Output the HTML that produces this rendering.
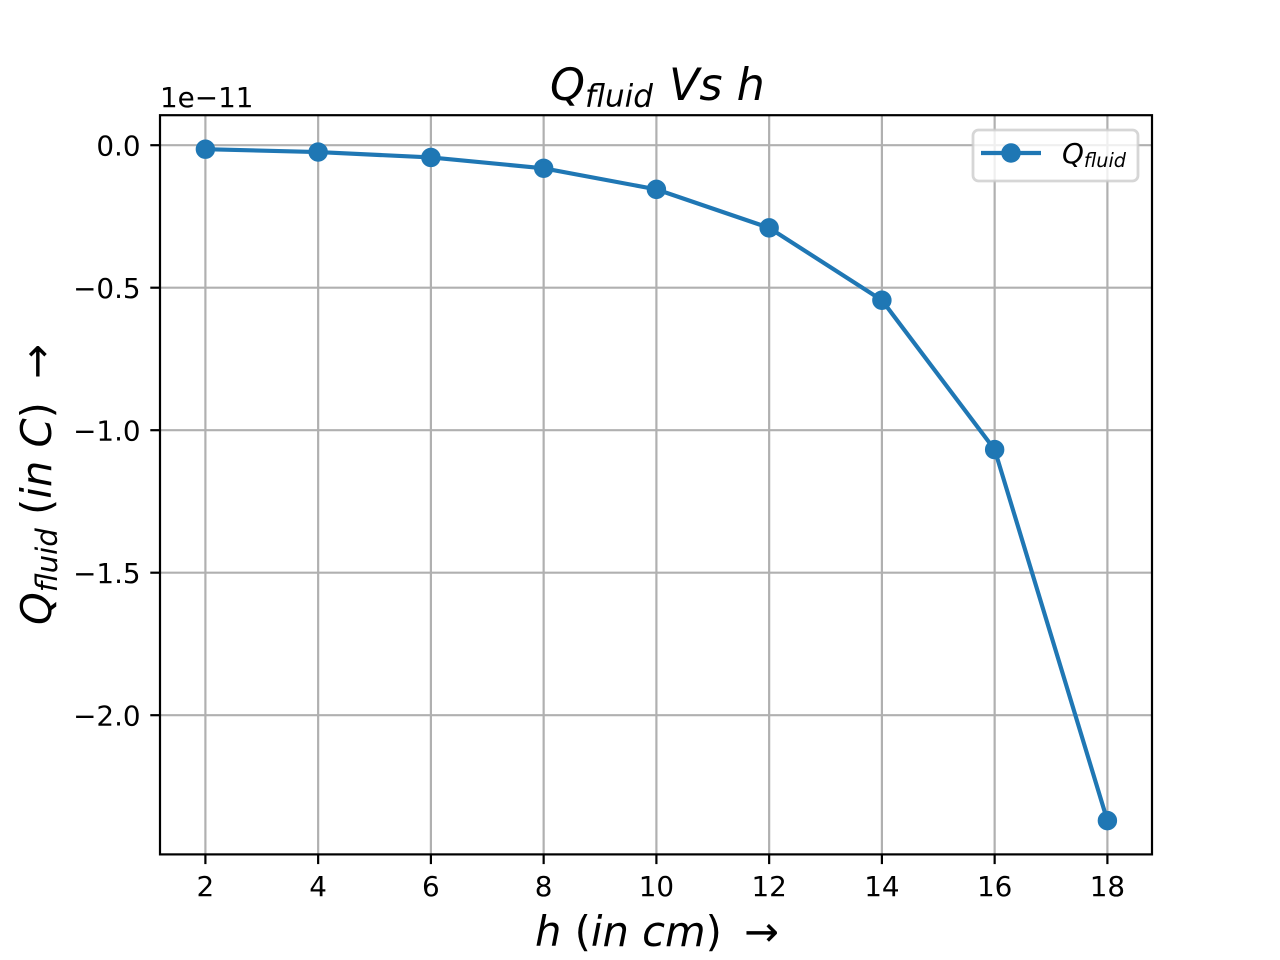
<!DOCTYPE html>
<html>
<head>
<meta charset="utf-8">
<style>
html,body{margin:0;padding:0;background:#fff;}
svg{display:block;}
text{font-family:"DejaVu Sans","Liberation Sans",sans-serif;fill:#000;white-space:pre;}
.i{font-style:italic;}
</style>
</head>
<body>
<svg id="chart" xmlns="http://www.w3.org/2000/svg" width="1280" height="960" viewBox="0 0 1280 960">
  <rect x="0" y="0" width="1280" height="960" fill="#fff"/>
  <rect x="160" y="115.2" width="992" height="739.2" fill="#fff"/>
  <g id="grid"></g>
  <g id="series"></g>
  <g id="ticks"></g>
  <rect x="160" y="115.2" width="992" height="739.2" fill="none" stroke="#000" stroke-width="2.2"/>
  <text x="160" y="107" font-size="27.8">1e−11</text>
  <text x="550" y="100" font-size="44.4" class="i">Q<tspan font-size="31" dy="6.5">fluid</tspan><tspan dy="-6.5" dx="2"> Vs h</tspan></text>
  <text x="535" y="946" font-size="41.67"><tspan class="i">h</tspan> (<tspan class="i">in cm</tspan>)<tspan x="744">→</tspan></text>
  <text transform="translate(51,625) rotate(-90)" font-size="41.67"><tspan class="i">Q</tspan><tspan class="i" font-size="29.2" dy="6.1">fluid</tspan><tspan dy="-6.1"> (</tspan><tspan class="i">in C</tspan>)<tspan x="246">→</tspan></text>
  <g>
    <rect x="973" y="130" width="165" height="51" rx="5.5" ry="5.5" fill="#fff" fill-opacity="0.8" stroke="#ccc" stroke-opacity="0.8" stroke-width="2.78"/>
    <line x1="981" y1="153" x2="1041" y2="153" stroke="#1f77b4" stroke-width="4.17"/>
    <circle cx="1011" cy="153" r="8.33" fill="#1f77b4" stroke="#1f77b4" stroke-width="2.78"/>
    <text x="1062" y="163" font-size="27.8" class="i">Q<tspan font-size="19.2" dy="4">fluid</tspan></text>
  </g>
</svg>
<script>
var hValues = [2, 4, 6, 8, 10, 12, 14, 16, 18];
var qValues = [-0.014, -0.024, -0.043, -0.081, -0.155, -0.29, -0.544, -1.068, -2.37];
var xTickValues = [2, 4, 6, 8, 10, 12, 14, 16, 18];
var yTickValues = [0, -0.5, -1, -1.5, -2];
var yTickLabels = ["0.0", "−0.5", "−1.0", "−1.5", "−2.0"];

var NS = "http://www.w3.org/2000/svg";
function xScale(v) { return 205.4 + (v - 2) * 56.375; }
function yScale(v) { return 145.2 - v * 285; }
function make(tag, attrs, parent) {
  var el = document.createElementNS(NS, tag);
  for (var k in attrs) { el.setAttribute(k, attrs[k]); }
  parent.appendChild(el);
  return el;
}
var gridGroup = document.getElementById("grid");
var tickGroup = document.getElementById("ticks");
var seriesGroup = document.getElementById("series");
var plotBottom = 854.4, plotTop = 115.2, plotLeft = 160, plotRight = 1152;

xTickValues.forEach(function (v) {
  var x = xScale(v);
  var g = make("line", {x1: x, x2: x, y1: plotTop, y2: plotBottom, stroke: "#b0b0b0", "stroke-width": 2.2}, gridGroup);
  
  
  var t = make("line", {x1: x, x2: x, y1: plotBottom, y2: plotBottom + 9.7, stroke: "#000", "stroke-width": 2.2}, tickGroup);
  
  
  var l = make("text", {x: x, y: 896, "font-size": 27.8, "text-anchor": "middle"}, tickGroup);
  
  
  l.textContent = String(v);
});

yTickValues.forEach(function (v, i) {
  var y = yScale(v);
  var g = make("line", {x1: plotLeft, x2: plotRight, y1: y, y2: y, stroke: "#b0b0b0", "stroke-width": 2.2}, gridGroup);
  
  
  var t = make("line", {x1: plotLeft - 9.7, x2: plotLeft, y1: y, y2: y, stroke: "#000", "stroke-width": 2.2}, tickGroup);
  
  
  var l = make("text", {x: 140.6, y: y + 10.2, "font-size": 27.8, "text-anchor": "end"}, tickGroup);
  
  
  l.textContent = yTickLabels[i];
});

var pts = hValues.map(function (h, i) { return xScale(h) + "," + yScale(qValues[i]); }).join(" ");
var poly = make("polyline", {points: pts, fill: "none", stroke: "#1f77b4", "stroke-width": 4.17, "stroke-linejoin": "round"}, seriesGroup);


hValues.forEach(function (h, i) {
  var c = make("circle", {cx: xScale(h), cy: yScale(qValues[i]), r: 8.33, fill: "#1f77b4", stroke: "#1f77b4", "stroke-width": 2.78}, seriesGroup);
  
  
});
</script>
</body>
</html>
